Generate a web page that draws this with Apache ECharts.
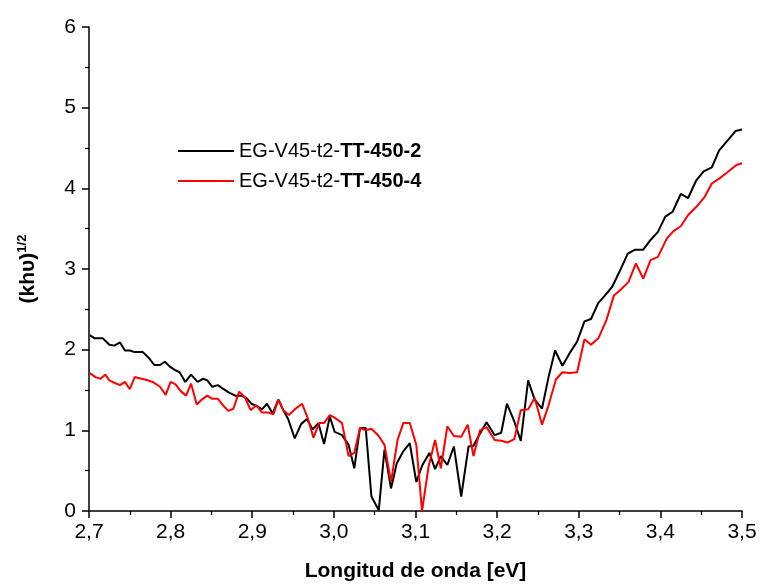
<!DOCTYPE html>
<html>
<head>
    <meta charset="utf-8">
    <title>ECharts</title>
    <script type="text/javascript" src="https://cdn.jsdelivr.net/npm/echarts@6/dist/echarts.min.js"></script>
    <style type="text/css">
        body{ margin:0; background:#fff; }
        #main{ width:761px; height:584px; }
    </style>
</head>
<body>
    <div id="main"></div>
    <script type="text/javascript">
        // 数据
        var energy2 = [2.701,2.707,2.717,2.725,2.731,2.738,2.744,2.750,2.756,2.766,2.774,2.780,2.787,2.793,2.799,2.805,2.811,2.818,2.825,2.833,
            2.840,2.845,2.851,2.858,2.865,2.871,2.879,2.887,2.893,2.899,2.906,2.912,2.918,2.925,2.932,2.938,2.944,2.952,2.960,2.967,
            2.974,2.981,2.988,2.995,3.001,3.010,3.018,3.025,3.032,3.039,3.046,3.055,3.062,3.070,3.077,3.085,3.093,3.101,3.108,3.117,
            3.124,3.131,3.139,3.147,3.156,3.165,3.171,3.179,3.187,3.197,3.205,3.212,3.221,3.229,3.238,3.246,3.255,3.263,3.271,3.280,
            3.289,3.298,3.307,3.315,3.324,3.332,3.341,3.351,3.360,3.369,3.379,3.388,3.397,3.406,3.415,3.425,3.434,3.444,3.453,3.463,
            3.472,3.483,3.492,3.500];
        var values2 = [2.18,2.14,2.14,2.06,2.05,2.09,1.99,1.99,1.97,1.97,1.89,1.81,1.81,1.85,1.79,1.75,1.72,1.60,1.69,1.60,
            1.64,1.62,1.54,1.56,1.51,1.47,1.43,1.43,1.40,1.33,1.30,1.26,1.33,1.21,1.38,1.25,1.14,0.90,1.08,1.14,
            1.01,1.09,0.83,1.17,0.98,0.94,0.82,0.53,1.03,1.03,0.18,0.01,0.76,0.28,0.59,0.74,0.84,0.36,0.56,0.72,
            0.52,0.68,0.57,0.80,0.18,0.80,0.81,0.96,1.10,0.94,0.97,1.33,1.11,0.87,1.62,1.38,1.27,1.66,1.99,1.80,
            1.96,2.10,2.35,2.38,2.58,2.67,2.78,2.99,3.19,3.24,3.24,3.36,3.46,3.65,3.71,3.93,3.88,4.10,4.21,4.26,
            4.47,4.60,4.71,4.73];

        var energy4 = [2.701,2.708,2.714,2.720,2.725,2.731,2.738,2.744,2.750,2.756,2.764,2.772,2.778,2.787,2.794,2.800,2.806,2.813,2.819,2.825,
            2.832,2.838,2.845,2.851,2.858,2.865,2.871,2.877,2.884,2.891,2.898,2.905,2.912,2.920,2.926,2.932,2.938,2.945,2.952,2.961,
            2.968,2.975,2.982,2.988,2.995,3.002,3.010,3.018,3.025,3.032,3.039,3.046,3.055,3.062,3.070,3.078,3.085,3.093,3.101,3.108,
            3.116,3.124,3.131,3.139,3.147,3.156,3.164,3.171,3.179,3.187,3.197,3.205,3.213,3.221,3.229,3.238,3.246,3.255,3.263,3.272,
            3.280,3.289,3.298,3.307,3.315,3.324,3.334,3.343,3.352,3.361,3.370,3.379,3.388,3.397,3.408,3.416,3.425,3.434,3.445,3.454,
            3.463,3.472,3.481,3.493,3.500];
        var values4 = [1.71,1.66,1.64,1.69,1.62,1.59,1.56,1.60,1.51,1.66,1.64,1.62,1.60,1.54,1.44,1.60,1.57,1.48,1.43,1.58,
            1.32,1.38,1.43,1.39,1.39,1.30,1.24,1.27,1.48,1.41,1.25,1.31,1.22,1.22,1.20,1.38,1.25,1.19,1.26,1.33,
            1.15,0.91,1.09,1.09,1.19,1.15,1.09,0.68,0.72,1.03,1.00,1.02,0.93,0.82,0.36,0.88,1.09,1.09,0.82,0.00,
            0.55,0.88,0.53,1.05,0.93,0.92,1.07,0.68,1.00,1.04,0.88,0.87,0.85,0.89,1.25,1.26,1.40,1.07,1.31,1.63,
            1.72,1.71,1.72,2.13,2.06,2.14,2.37,2.67,2.75,2.84,3.07,2.88,3.11,3.15,3.38,3.47,3.53,3.67,3.78,3.89,
            4.06,4.12,4.19,4.29,4.31];

        var seriesNames = ['EG-V45-t2-TT-450-2', 'EG-V45-t2-TT-450-4'];
        var xTicks = ['2,7','2,8','2,9','3,0','3,1','3,2','3,3','3,4','3,5'];

        function pairs(xs, ys){
            var out = [];
            for (var i = 0; i < xs.length; i++) out.push([xs[i], ys[i]]);
            return out;
        }

        var myChart = echarts.init(document.getElementById('main'), null, {renderer:'canvas'});
        var font = 'Liberation Sans, Arial, sans-serif';

        var option = {
            backgroundColor:'#fff',
            animation:false,
            textStyle:{ fontFamily:font },
            grid:{ left:89, right:19, top:27, bottom:73, containLabel:false, outerBoundsMode:'none' },
            legend:{
                orient:'vertical',
                left:173,
                top:136,
                itemWidth:56,
                itemHeight:12,
                itemGap:10,
                icon:'path://M0,0 L56,0 L56,2 L0,2 Z',
                data:seriesNames,
                formatter:function(name){
                    var parts = name.split('TT-');
                    return '{n|' + parts[0] + '}{b|TT-' + parts[1] + '}';
                },
                textStyle:{
                    color:'#000',
                    fontSize:20,
                    rich:{
                        n:{ fontSize:20, fontFamily:font, color:'#000' },
                        b:{ fontSize:20, fontFamily:font, fontWeight:'bold', color:'#000' }
                    }
                }
            },
            xAxis:{
                type:'value',
                min:2.7,
                max:3.5,
                interval:0.1,
                name:'Longitud de onda [eV]',
                nameLocation:'middle',
                nameGap:50,
                nameTextStyle:{ fontSize:21, fontWeight:'bold', color:'#000', fontFamily:font },
                splitLine:{ show:false },
                axisLine:{ onZero:false, lineStyle:{ color:'#000', width:1.5 } },
                axisTick:{ inside:false, length:7, lineStyle:{ color:'#000', width:1.5 } },
                minorTick:{ show:true, splitNumber:2, length:4, lineStyle:{ color:'#000', width:1.2 } },
                axisLabel:{
                    color:'#000',
                    fontSize:21,
                    margin:11,
                    formatter:function(v){
                        var i = Math.round((v - 2.7) * 10);
                        return xTicks[i] !== undefined ? xTicks[i] : '';
                    }
                }
            },
            yAxis:{
                type:'value',
                min:0,
                max:6,
                interval:1,
                name:'{a|(khυ)}{s|1/2}',
                nameLocation:'middle',
                nameRotate:90,
                nameGap:48,
                nameTextStyle:{
                    color:'#000',
                    rich:{
                        a:{ fontSize:21, fontWeight:'bold', fontFamily:font, color:'#000', lineHeight:26 },
                        s:{ fontSize:13, fontWeight:'bold', fontFamily:font, color:'#000', padding:[0,0,12,0] }
                    }
                },
                splitLine:{ show:false },
                axisLine:{ show:true, lineStyle:{ color:'#000', width:1.5 } },
                axisTick:{ inside:false, length:7, lineStyle:{ color:'#000', width:1.5 } },
                minorTick:{ show:true, splitNumber:2, length:4, lineStyle:{ color:'#000', width:1.2 } },
                axisLabel:{ color:'#000', fontSize:21, margin:13 }
            },
            series:[
                {
                    name:seriesNames[0],
                    type:'line',
                    data:pairs(energy2, values2),
                    symbol:'none',
                    color:'#000000',
                    lineStyle:{ color:'#000000', width:2 }
                },
                {
                    name:seriesNames[1],
                    type:'line',
                    data:pairs(energy4, values4),
                    symbol:'none',
                    color:'#ff0000',
                    lineStyle:{ color:'#ff0000', width:2 }
                }
            ]
        };

        myChart.setOption(option);
    </script>
</body>
</html>
